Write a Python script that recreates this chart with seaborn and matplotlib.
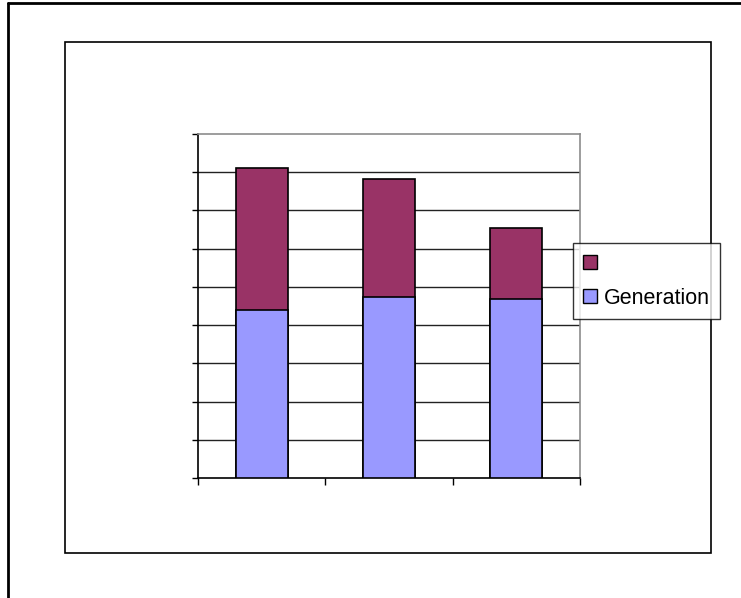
import matplotlib
matplotlib.use("Agg")
import matplotlib.pyplot as plt
from matplotlib.patches import Patch, Rectangle
from matplotlib.lines import Line2D
import pandas as pd
import seaborn as sns

# =========================
# DATA
# =========================
categories = ["Cat 1", "Cat 2", "Cat 3"]
generation = [4.40, 4.74, 4.69]
other = [3.70, 3.09, 1.86]
series_labels = ["", "Generation"]

GEN_COLOR = "#9999FF"
OTHER_COLOR = "#993366"

sns.set_style("white")
plt.rcParams["font.family"] = ["Liberation Sans", "DejaVu Sans"]
plt.rcParams["text.color"] = "black"

df = pd.DataFrame({"cat": categories, "generation": generation, "other": other})
df["total"] = df["generation"] + df["other"]

W, H = 741, 598
fig = plt.figure(figsize=(W / 100, H / 100), dpi=100)
ax = fig.add_axes([198 / W, 1 - 478 / H, 382 / W, 344 / H])

# stacked bars: total first, generation on top of it
sns.barplot(data=df, x="cat", y="total", color=OTHER_COLOR, width=0.41,
            edgecolor="black", linewidth=1.2, saturation=1, ax=ax, zorder=3)
sns.barplot(data=df, x="cat", y="generation", color=GEN_COLOR, width=0.41,
            edgecolor="black", linewidth=1.2, saturation=1, ax=ax, zorder=4)

ax.set_xlim(-0.5, 2.5)
ax.set_ylim(0, 9)
ax.set_yticks(range(10))
ax.set_xticks([-0.5, 0.5, 1.5, 2.5])
ax.set_xticklabels([])
ax.set_yticklabels([])
ax.set_xlabel("")
ax.set_ylabel("")
ax.tick_params(axis="y", direction="out", length=4.5, width=1, color="black", left=True)
ax.tick_params(axis="x", direction="out", length=5, width=1, color="black", bottom=True)

for y in range(1, 9):
    ax.axhline(y, color="#222222", linewidth=1, zorder=1)

for s in ["left", "bottom"]:
    ax.spines[s].set_color("black")
    ax.spines[s].set_linewidth(1.2)
for s in ["top", "right"]:
    ax.spines[s].set_color("#8c8c8c")
    ax.spines[s].set_linewidth(1.2)

# legend
handles = [Patch(facecolor=OTHER_COLOR, edgecolor="black", linewidth=1),
           Patch(facecolor=GEN_COLOR, edgecolor="black", linewidth=1)]
leg = fig.legend(handles, series_labels, loc="upper left",
                 bbox_to_anchor=(573 / W, 1 - 243 / H), fontsize=15.5,
                 frameon=True, fancybox=False, shadow=False,
                 handlelength=0.65, handleheight=0.65, handletextpad=0.3,
                 labelspacing=0.62, borderpad=0.48, borderaxespad=0)
leg.get_frame().set_edgecolor("black")
leg.get_frame().set_linewidth(1)
for t in leg.get_texts():
    t.set_color("black")

# inner chart-area rectangle
fig.add_artist(Rectangle((65 / W, 1 - 553 / H), (711 - 65) / W, (553 - 42) / H,
                         transform=fig.transFigure, fill=False,
                         edgecolor="black", linewidth=1.2))
# outer border (left and top only visible)
fig.add_artist(Line2D([7.5 / W, 7.5 / W], [0, 1 - 2.5 / H], transform=fig.transFigure,
                      color="black", linewidth=2))
fig.add_artist(Line2D([7.5 / W, 1], [1 - 2.5 / H, 1 - 2.5 / H], transform=fig.transFigure,
                      color="black", linewidth=2))

fig.savefig("out.png", dpi=100)
